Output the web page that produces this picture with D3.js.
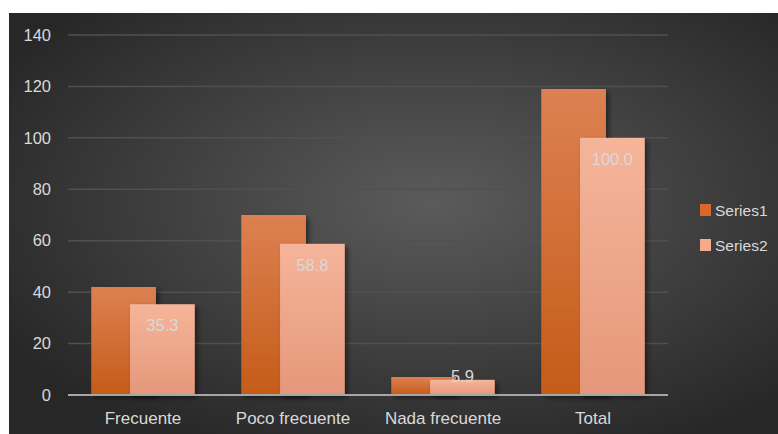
<!DOCTYPE html>
<html><head><meta charset="utf-8">
<script src="https://cdn.jsdelivr.net/npm/d3@7"></script>
<style>html,body{margin:0;padding:0;background:#fff;}svg{display:block;}</style>
</head><body>
<svg id="chart" width="778" height="434"></svg>
<script>
const categories = ["Frecuente", "Poco frecuente", "Nada frecuente", "Total"];
const seriesNames = ["Series1", "Series2"];
const series1 = [42, 70, 7, 119];
const series2 = [35.3, 58.8, 5.9, 100.0];
const yTicks = [0, 20, 40, 60, 80, 100, 120, 140];

const svg = d3.select("#chart");
const font = "'Liberation Sans', Arial, sans-serif";
const defs = svg.append("defs");

const bg = defs.append("radialGradient").attr("id", "bg")
  .attr("cx", 0.55).attr("cy", 0.45).attr("r", 0.65);
bg.append("stop").attr("offset", "0%").attr("stop-color", "#5b5b5b");
bg.append("stop").attr("offset", "100%").attr("stop-color", "#272727");

function vgrad(id, top, bottom) {
  const g = defs.append("linearGradient").attr("id", id)
    .attr("x1", 0).attr("y1", 0).attr("x2", 0).attr("y2", 1);
  g.append("stop").attr("offset", "0%").attr("stop-color", top);
  g.append("stop").attr("offset", "100%").attr("stop-color", bottom);
}
vgrad("g0", "#dd8052", "#c55c18");
vgrad("g1", "#f5b59a", "#e5977a");
const colors = ["url(#g0)", "url(#g1)"];
const legendColors = ["#d8692a", "#f4ab8c"];

const sh = defs.append("filter").attr("id", "shadow")
  .attr("x", "-20%").attr("y", "-20%").attr("width", "150%").attr("height", "150%");
sh.append("feDropShadow").attr("dx", 3).attr("dy", 3).attr("stdDeviation", 2.5)
  .attr("flood-color", "#000").attr("flood-opacity", 0.45);

svg.append("rect").attr("x", 9).attr("y", 13).attr("width", 769).attr("height", 421)
  .attr("fill", "url(#bg)");

const plotL = 68, plotR = 668;
const y = d3.scaleLinear().domain([0, 140]).range([395, 35]);
const x0 = d3.scaleBand().domain(categories).range([plotL, plotR])
  .paddingInner(0.31).paddingOuter(0.155);
const barW = x0.bandwidth() / 1.6;
const step = barW * 0.6;

// gridlines
svg.append("g").selectAll("line").data(yTicks.filter(d => d > 0)).join("line")
  .attr("x1", plotL).attr("x2", plotR)
  .attr("y1", d => y(d)).attr("y2", d => y(d))
  .attr("stroke", "#505050").attr("stroke-width", 1.5);

// y axis labels
const yAxis = d3.axisLeft(y).tickValues(yTicks).tickSize(0).tickPadding(0);
const yg = svg.append("g").attr("transform", "translate(51,0)").call(yAxis);
yg.select(".domain").remove();
yg.selectAll("text").attr("fill", "#d9d9d9").style("font-family", font).style("font-size", "16.5px");

// bars
const data = [series1, series2];
data.forEach((vals, si) => {
  svg.append("g").selectAll("rect").data(vals).join("rect")
    .attr("x", (d, i) => x0(categories[i]) + si * step)
    .attr("y", d => y(d))
    .attr("width", barW)
    .attr("height", d => y(0) - y(d))
    .attr("fill", colors[si])
    .attr("filter", "url(#shadow)");
});

// x axis line
svg.append("line").attr("x1", plotL).attr("x2", plotR)
  .attr("y1", y(0)).attr("y2", y(0))
  .attr("stroke", "#a6a6a6").attr("stroke-width", 2);

// data labels series2
svg.append("g").selectAll("text").data(series2).join("text")
  .attr("x", (d, i) => x0(categories[i]) + step + barW / 2)
  .attr("y", d => (y(0) - y(d) > 30) ? y(d) + 27 : y(d) + 2)
  .attr("text-anchor", "middle")
  .attr("fill", "#d9d9d9").style("font-family", font).style("font-size", "16.5px")
  .text(d => d.toFixed(1));

// x axis labels
const xAxis = d3.axisBottom(x0).tickSize(0).tickPadding(0);
const xg = svg.append("g").attr("transform", "translate(0,412)").call(xAxis);
xg.select(".domain").remove();
xg.selectAll("text").attr("fill", "#d9d9d9").style("font-family", font).style("font-size", "17px");

// legend
const lg = svg.append("g").selectAll("g").data(seriesNames).join("g")
  .attr("transform", (d, i) => `translate(700,${204 + i * 35})`);
lg.append("rect").attr("width", 11).attr("height", 12).attr("fill", (d, i) => legendColors[i]);
lg.append("text").attr("x", 15).attr("y", 11.5)
  .attr("fill", "#d9d9d9").style("font-family", font).style("font-size", "15.5px")
  .text(d => d);
</script>
</body></html>
